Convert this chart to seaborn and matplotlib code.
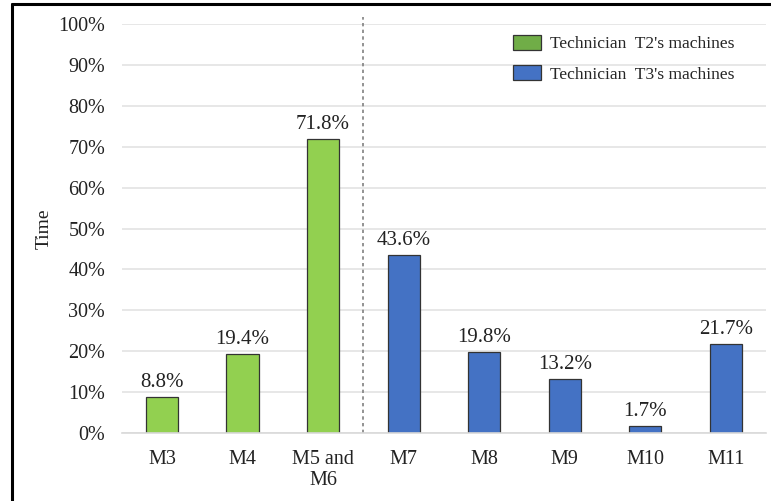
import matplotlib
matplotlib.use("Agg")
import matplotlib.pyplot as plt
import seaborn as sns
import pandas as pd
from matplotlib.patches import Patch
from matplotlib.ticker import PercentFormatter
from matplotlib.lines import Line2D

machines = ["M3", "M4", "M5 and\nM6", "M7", "M8", "M9", "M10", "M11"]
values = [8.8, 19.4, 71.8, 43.6, 19.8, 13.2, 1.7, 21.7]
groups = ["Technician  T2's machines"] * 3 + ["Technician  T3's machines"] * 5
group_names = ["Technician  T2's machines", "Technician  T3's machines"]
bar_colors = {"Technician  T2's machines": "#92D050", "Technician  T3's machines": "#4472C4"}
legend_colors = ["#70AD47", "#4472C4"]
yticks = [0, 10, 20, 30, 40, 50, 60, 70, 80, 90, 100]

df = pd.DataFrame({"machine": machines, "value": [v / 100 for v in values], "group": groups})

sns.set_theme(style="white")
plt.rcParams["font.family"] = ["Liberation Serif", "DejaVu Serif"]

fig = plt.figure(figsize=(7.71, 5.01), dpi=100)
ax = fig.add_axes([0.158, 0.1357, 0.8355, 0.8163])

sns.barplot(data=df, x="machine", y="value", hue="group", palette=bar_colors,
            dodge=False, width=0.4, edgecolor="#333333", linewidth=0.9, ax=ax,
            legend=False, order=machines, saturation=1)

ax.set_ylim(0, 1.0)
ax.set_xlim(-0.5, 7.5)
ax.set_yticks([t / 100 for t in yticks])
ax.yaxis.set_major_formatter(PercentFormatter(1.0, decimals=0))
ax.grid(axis="y", color="#e3e3e3", linewidth=1.2)
ax.set_axisbelow(True)
for s in ["top", "right", "left"]:
    ax.spines[s].set_visible(False)
ax.spines["bottom"].set_color("#d9d9d9")
ax.spines["bottom"].set_linewidth(1.2)
ax.tick_params(axis="both", length=0, labelsize=14.5, colors="#222222")
ax.tick_params(axis="y", pad=12)
ax.tick_params(axis="x", pad=12)
for lbl in ax.get_xticklabels():
    lbl.set_linespacing(1.2)
ax.set_xlabel("")
ax.set_ylabel("Time", fontsize=14, color="#222222", labelpad=4)

for i, v in enumerate(values):
    ax.text(i, v / 100 + 0.012, f"{v}%", ha="center", va="bottom", fontsize=15, color="#222222")

ax.plot([2.5, 2.5], [0, 1.017], linestyle=(0, (2, 2)), color="#808080", linewidth=1.2, clip_on=False)

handles = [Patch(facecolor=c, edgecolor="#333333", linewidth=0.9) for c in legend_colors]
leg = ax.legend(handles, group_names, loc="upper right", bbox_to_anchor=(0.975, 1.012),
                frameon=False, fontsize=12.6, handlelength=1.6, handleheight=0.95,
                labelspacing=0.72, handletextpad=0.5)

# outer frame (left and top edges visible)
fig.add_artist(Line2D([12 / 771, 12 / 771], [0, 1 - 4 / 501], transform=fig.transFigure,
                      color="black", linewidth=2.2))
fig.add_artist(Line2D([12 / 771, 1], [1 - 4 / 501, 1 - 4 / 501], transform=fig.transFigure,
                      color="black", linewidth=2.2))

fig.savefig("out.png", dpi=100)
